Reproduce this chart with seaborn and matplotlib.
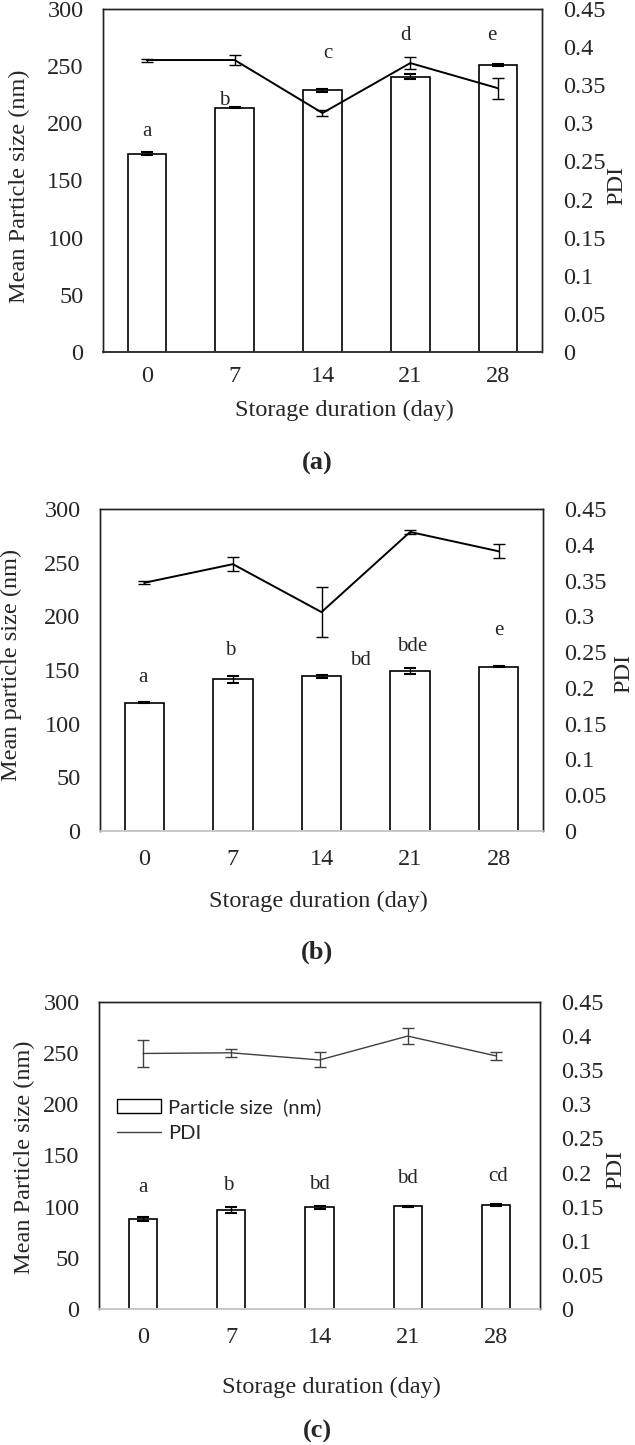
import numpy as np
import matplotlib
matplotlib.use("Agg")
import matplotlib.pyplot as plt
from matplotlib.ticker import FuncFormatter
from matplotlib.patches import Patch
from matplotlib.lines import Line2D
import seaborn as sns

sns.set_theme(style="white")
plt.rcParams['font.family'] = ['Liberation Serif', 'DejaVu Serif']

days = ["0", "7", "14", "21", "28"]

# (a)
size_a = [173.5, 213.6, 228.7, 240.9, 250.7]
size_a_err = [1.0, 0.5, 1.0, 2.0, 1.0]
pdi_a = [0.383, 0.383, 0.3135, 0.379, 0.346]
pdi_a_err = [0.002, 0.0065, 0.004, 0.0076, 0.0137]
letters_a = ["a", "b", "c", "d", "e"]
letters_a_y = [193, 220, 261, 277, 277]

# (b)
size_b = [119.5, 141.5, 144.0, 149.0, 153.0]
size_b_err = [0.5, 3.3, 1.0, 2.5, 0.5]
pdi_b = [0.347, 0.373, 0.306, 0.418, 0.391]
pdi_b_err = [0.002, 0.010, 0.0355, 0.003, 0.0095]
letters_b = ["a", "b", "bd", "bde", "e"]
letters_b_y = [143, 168.6, 158.7, 172, 186.6]

# (c)
size_c = [88.0, 96.6, 99.2, 100.5, 101.5]
size_c_err = [2.3, 2.6, 1.0, 0.5, 1.0]
pdi_c = [0.3745, 0.3755, 0.365, 0.400, 0.371]
pdi_c_err = [0.0204, 0.0058, 0.011, 0.0114, 0.006]
letters_c = ["a", "b", "bd", "bd", "cd"]
letters_c_y = [118.7, 121, 122, 128, 129]

fig = plt.figure(figsize=(6.35, 14.45), dpi=100)

panels = [
    dict(rect=[0.1622, 0.7564, 0.6913, 0.2374], s=size_a, se=size_a_err, p=pdi_a, pe=pdi_a_err,
         let=letters_a, ly=letters_a_y, lx=[0, -0.12, 0.06, -0.06, -0.07], w=0.44,
         lc="black", lw=1.4, bc="#333333", ylab="Mean Particle size (nm)",
         ylpos=(-0.191, 0.484), plpos=(1.171, 0.487), xlpos=(0.551, -0.169), xpad=10,
         tag="(a)", tagy=463),
    dict(rect=[0.1575, 0.4249, 0.6976, 0.2228], s=size_b, se=size_b_err, p=pdi_b, pe=pdi_b_err,
         let=letters_b, ly=letters_b_y, lx=[-0.02, -0.03, 0.44, 0.02, 0], w=0.445,
         lc="black", lw=1.4, bc="#c8c8c8", ylab="Mean particle size (nm)",
         ylpos=(-0.199, 0.516), plpos=(1.183, 0.49), xlpos=(0.492, -0.22), xpad=13,
         tag="(b)", tagy=952),
    dict(rect=[0.1559, 0.0941, 0.6945, 0.2125], s=size_c, se=size_c_err, p=pdi_c, pe=pdi_c_err,
         let=letters_c, ly=letters_c_y, lx=[0, -0.04, 0, 0, 0.03], w=0.32,
         lc="#404040", lw=1.0, bc="#c8c8c8", ylab="Mean Particle size (nm)",
         ylpos=(-0.17, 0.495), plpos=(1.172, 0.453), xlpos=(0.526, -0.254), xpad=13,
         tag="(c)", tagy=1431),
]

for i, pn in enumerate(panels):
    ax = fig.add_axes(pn["rect"])
    sns.barplot(x=days, y=pn["s"], order=days, color="white", edgecolor="black",
                linewidth=1.2, width=pn["w"], ax=ax, zorder=2)
    ax.errorbar(range(len(days)), pn["s"], yerr=pn["se"], fmt="none", ecolor="black",
                elinewidth=1.0, capsize=4, capthick=1.5, zorder=3)
    ax.set_ylim(0, 300)
    ax.set_xlim(-0.5, 4.5)
    ax.set_yticks(range(0, 301, 50))
    ax.tick_params(axis="y", length=0, pad=14, labelsize=17.5)
    ax.tick_params(axis="x", length=0, pad=pn["xpad"], labelsize=17.5)
    ax.set_xlabel("Storage duration (day)", fontsize=17.5)
    ax.xaxis.set_label_coords(*pn["xlpos"])
    ax.xaxis.label.set_va("center")
    ax.set_ylabel(pn["ylab"], fontsize=17.5)
    ax.yaxis.set_label_coords(*pn["ylpos"])
    ax.yaxis.label.set_va("center")
    for k, t in enumerate(pn["let"]):
        ax.text(k + pn["lx"][k], pn["ly"][k], t, ha="center", va="center", fontsize=15)

    ax2 = ax.twinx()
    ax2.errorbar(range(len(days)), pn["p"], yerr=pn["pe"], color=pn["lc"], lw=pn["lw"],
                 elinewidth=1.0, capsize=4, capthick=1.0)
    ax2.set_ylim(0, 0.45)
    ax2.set_yticks(np.arange(0, 0.451, 0.05))
    ax2.yaxis.set_major_formatter(FuncFormatter(lambda v, _: "{:g}".format(round(v, 2))))
    ax2.tick_params(axis="y", length=0, pad=15, labelsize=17.5)
    ax2.set_ylabel("PDI", fontsize=17.5)
    ax2.yaxis.set_label_coords(*pn["plpos"])
    ax2.yaxis.label.set_va("center")

    for a in (ax, ax2):
        for side in ["top", "right", "left"]:
            a.spines[side].set_color("#222222")
            a.spines[side].set_linewidth(1.0)
        a.spines["bottom"].set_color(pn["bc"])
        a.spines["bottom"].set_linewidth(1.2)

    if i == 2:
        handles = [Patch(facecolor="white", edgecolor="black", linewidth=1.0),
                   Line2D([0], [0], color="#404040", lw=1.0)]
        ax.legend(handles, ["Particle size  (nm)", "PDI"], loc="center left",
                  bbox_to_anchor=(0.04, 0.615), frameon=False, borderaxespad=0, borderpad=0,
                  prop={"family": "Lato", "size": 14.5}, handlelength=2.2, handleheight=0.65,
                  handletextpad=0.35, labelspacing=0.45)

    fig.text(317 / 635, 1 - pn["tagy"] / 1445, pn["tag"], ha="center", va="center",
             fontsize=19, fontweight="bold")

fig.savefig("out.png", dpi=100)
